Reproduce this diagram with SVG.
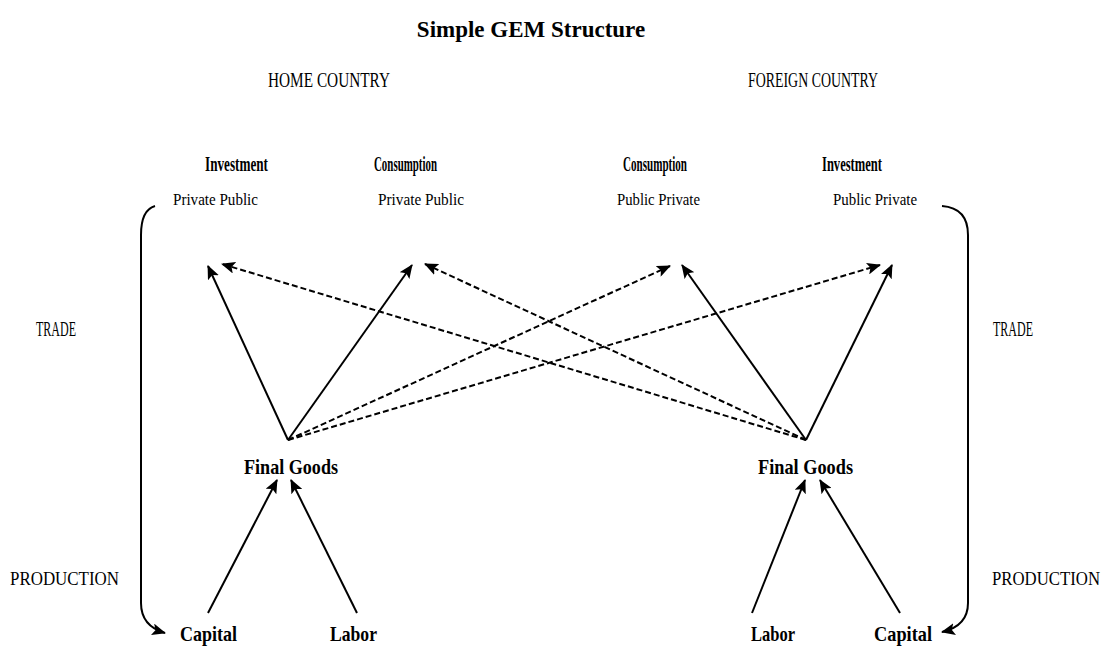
<svg xmlns="http://www.w3.org/2000/svg" width="1109" height="653" viewBox="0 0 1109 653">
<style>
text{font-family:"Liberation Serif","Times New Roman",serif;fill:#000}
.t{font-size:23px;font-weight:bold}
.h{font-size:20px}
.p{font-size:18px}
.b{font-size:22px;font-weight:bold}
.s{font-size:17px}
.c{fill:none;stroke:#000;stroke-width:2}
.d{stroke-dasharray:6 3}
</style>
<defs>
<marker id="ah" markerUnits="userSpaceOnUse" markerWidth="14" markerHeight="12" viewBox="0 0 14 12" refX="13" refY="6" orient="auto">
<path d="M0,0 L14,6 L0,12 L3,6 Z" fill="#000"/>
</marker>
</defs>
<rect width="1109" height="653" fill="#fff"/>
<g id="title">
<text class="t" x="531" y="37" text-anchor="middle">Simple GEM Structure</text>
</g>
<g id="home-label"><text class="h" x="268" y="87" textLength="122" lengthAdjust="spacingAndGlyphs">HOME COUNTRY</text></g>
<g id="foreign-label"><text class="h" x="748" y="87" textLength="130" lengthAdjust="spacingAndGlyphs">FOREIGN COUNTRY</text></g>

<g id="home-investment">
<text class="b" x="205" y="171" textLength="63" lengthAdjust="spacingAndGlyphs">Investment</text>
<text class="s" x="173" y="205" textLength="85" lengthAdjust="spacingAndGlyphs">Private Public</text>
</g>
<g id="home-consumption">
<text class="b" x="374" y="171" textLength="63" lengthAdjust="spacingAndGlyphs">Consumption</text>
<text class="s" x="378" y="205" textLength="86" lengthAdjust="spacingAndGlyphs">Private Public</text>
</g>
<g id="foreign-consumption">
<text class="b" x="623" y="171" textLength="64" lengthAdjust="spacingAndGlyphs">Consumption</text>
<text class="s" x="617" y="205" textLength="83" lengthAdjust="spacingAndGlyphs">Public Private</text>
</g>
<g id="foreign-investment">
<text class="b" x="822" y="171" textLength="60" lengthAdjust="spacingAndGlyphs">Investment</text>
<text class="s" x="833" y="205" textLength="84" lengthAdjust="spacingAndGlyphs">Public Private</text>
</g>

<g id="trade-left"><text class="h" x="36" y="336" textLength="40" lengthAdjust="spacingAndGlyphs">TRADE</text></g>
<g id="production-left"><text class="p" x="10" y="585" textLength="109" lengthAdjust="spacingAndGlyphs">PRODUCTION</text></g>
<g id="trade-right"><text class="h" x="993" y="336" textLength="40" lengthAdjust="spacingAndGlyphs">TRADE</text></g>
<g id="production-right"><text class="p" x="992" y="585" textLength="108" lengthAdjust="spacingAndGlyphs">PRODUCTION</text></g>

<g id="home-final-goods"><text class="b" x="244" y="474" textLength="94" lengthAdjust="spacingAndGlyphs">Final Goods</text></g>
<g id="foreign-final-goods"><text class="b" x="758" y="474" textLength="95" lengthAdjust="spacingAndGlyphs">Final Goods</text></g>
<g id="home-capital"><text class="b" x="180" y="641" textLength="57" lengthAdjust="spacingAndGlyphs">Capital</text></g>
<g id="home-labor"><text class="b" x="330" y="641" textLength="47" lengthAdjust="spacingAndGlyphs">Labor</text></g>
<g id="foreign-labor"><text class="b" x="751" y="641" textLength="44" lengthAdjust="spacingAndGlyphs">Labor</text></g>
<g id="foreign-capital"><text class="b" x="874" y="641" textLength="58" lengthAdjust="spacingAndGlyphs">Capital</text></g>

<g id="connectors">
<path class="c" d="M288,440 L208,266" marker-end="url(#ah)"/>
<path class="c" d="M288,440 L412,265" marker-end="url(#ah)"/>
<path class="c d" d="M288,440 L670,266" marker-end="url(#ah)"/>
<path class="c d" d="M288,440 L880,265" marker-end="url(#ah)"/>
<path class="c d" d="M806,440 L222,264" marker-end="url(#ah)"/>
<path class="c d" d="M806,440 L425,264" marker-end="url(#ah)"/>
<path class="c" d="M806,440 L682,265" marker-end="url(#ah)"/>
<path class="c" d="M806,440 L892,265" marker-end="url(#ah)"/>
<path class="c" d="M208,613 L277,480" marker-end="url(#ah)"/>
<path class="c" d="M357,613 L291,480" marker-end="url(#ah)"/>
<path class="c" d="M752,613 L805,480" marker-end="url(#ah)"/>
<path class="c" d="M900,613 L820,480" marker-end="url(#ah)"/>
<path class="c" d="M155,206 Q141,210 141,235 L141,603 Q141,626 165,633" marker-end="url(#ah)"/>
<path class="c" d="M942,206 Q968,208 968,235 L968,603 Q968,626 942,632" marker-end="url(#ah)"/>
</g>
</svg>
